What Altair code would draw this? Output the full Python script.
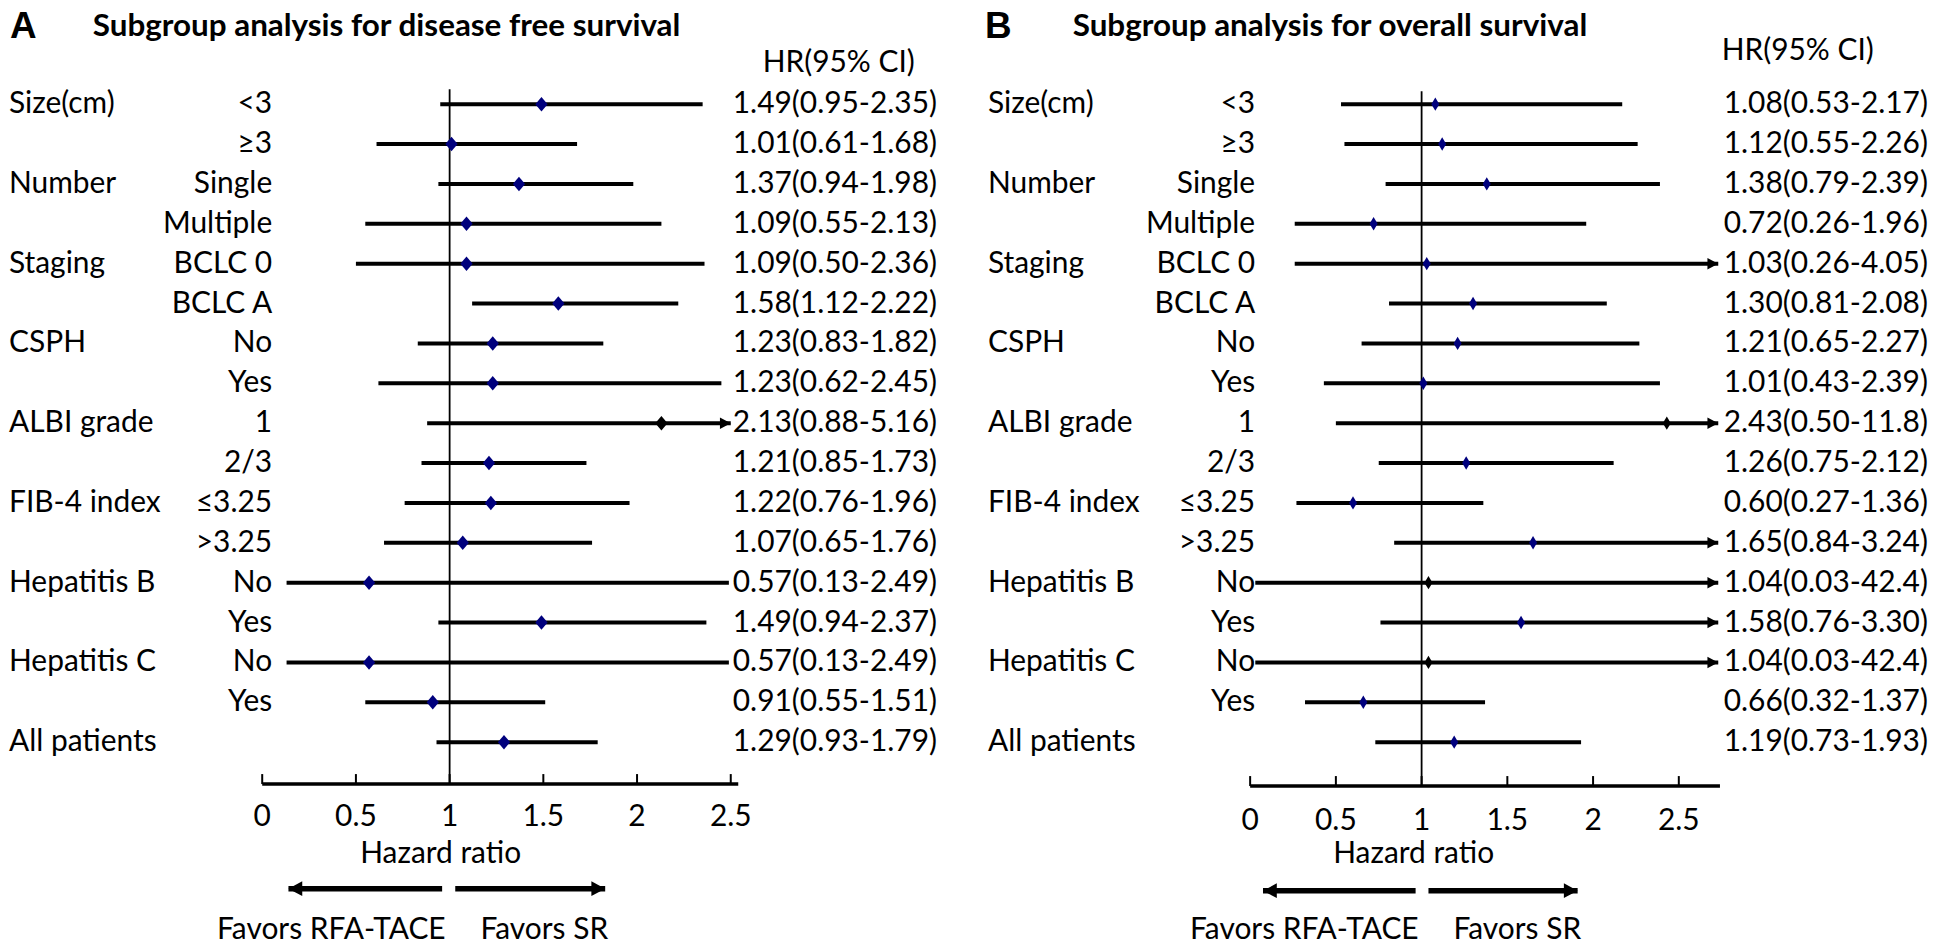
import altair as alt
import pandas as pd

# ---------------- data ----------------
group_labels = ["Size(cm)", "", "Number", "", "Staging", "", "CSPH", "", "ALBI grade", "",
                "FIB-4 index", "", "Hepatitis B", "", "Hepatitis C", "", "All patients"]
subgroups = ["<3", "≥3", "Single", "Multiple", "BCLC 0", "BCLC A", "No", "Yes", "1", "2/3",
             "≤3.25", ">3.25", "No", "Yes", "No", "Yes", ""]

dfs_hr = [1.49, 1.01, 1.37, 1.09, 1.09, 1.58, 1.23, 1.23, 2.13, 1.21, 1.22, 1.07, 0.57, 1.49, 0.57, 0.91, 1.29]
dfs_lo = [0.95, 0.61, 0.94, 0.55, 0.50, 1.12, 0.83, 0.62, 0.88, 0.85, 0.76, 0.65, 0.13, 0.94, 0.13, 0.55, 0.93]
dfs_hi = [2.35, 1.68, 1.98, 2.13, 2.36, 2.22, 1.82, 2.45, 5.16, 1.73, 1.96, 1.76, 2.49, 2.37, 2.49, 1.51, 1.79]

os_hr = [1.08, 1.12, 1.38, 0.72, 1.03, 1.30, 1.21, 1.01, 2.43, 1.26, 0.60, 1.65, 1.04, 1.58, 1.04, 0.66, 1.19]
os_lo = [0.53, 0.55, 0.79, 0.26, 0.26, 0.81, 0.65, 0.43, 0.50, 0.75, 0.27, 0.84, 0.03, 0.76, 0.03, 0.32, 0.73]
os_hi = [2.17, 2.26, 2.39, 1.96, 4.05, 2.08, 2.27, 2.39, 11.8, 2.12, 1.36, 3.24, 42.4, 3.30, 42.4, 1.37, 1.93]

dfs_black_rows = [8]
os_black_rows = [8, 12, 14]

tick_values = [0, 0.5, 1, 1.5, 2, 2.5]
tick_labels = ["0", "0.5", "1", "1.5", "2", "2.5"]

# ---------------- layout / style ----------------
W, H = 1936, 939
ROW0, ROWSTEP = 95, 40
FONT = "Lato"
FS = 30
NAVY = "#00007d"
DIAMOND_A = "M0,-1L0.85,0L0,1L-0.85,0Z"
DIAMOND_B = "M0,-1L0.6,0L0,1L-0.6,0Z"
HEAD_R = "M0,0L-1.5,-0.8L-1.5,0.8Z"
HEAD_L = "M0,0L1.5,-0.8L1.5,0.8Z"

ys = alt.Scale(domain=[-ROW0 / ROWSTEP, (H - ROW0) / ROWSTEP], reverse=True, nice=False, zero=False)


def fmt(v):
    return f"{v:.2f}" if v < 10 else f"{v:.1f}"


def panel(hr, lo, hi, black_rows, letter, title, L):
    n = len(hr)
    df = pd.DataFrame({"row": list(range(n)), "group": group_labels, "sub": subgroups,
                       "hr": hr, "lo": lo, "hi": hi})
    df["hi_draw"] = df["hi"].clip(upper=L["clip"])
    df["arrow"] = df["hi"] > L["clip"]
    df["label"] = [f"{fmt(a)}({fmt(b)}-{fmt(c)})" for a, b, c in zip(hr, lo, hi)]
    df["mc"] = ["black" if i in black_rows else NAVY for i in range(n)]

    o, u = L["origin"], L["unit"]
    xs = alt.Scale(domain=[-o / u, (W - o) / u], nice=False, zero=False)

    def X(f):
        return alt.X(f, type="quantitative", scale=xs, axis=None)

    Y = alt.Y("row:Q", scale=ys, axis=None)
    base = alt.Chart(df)

    ci = base.mark_rule(strokeWidth=4, color="black", strokeCap="butt").encode(
        x=X("lo"), x2="hi_draw", y=Y)
    heads = base.transform_filter("datum.arrow").mark_point(
        shape=HEAD_R, size=L["head"], filled=True, opacity=1, color="black", strokeWidth=0
    ).encode(x=X("hi_draw"), y=Y)
    dia = base.mark_point(shape=L["diamond"], size=L["dsize"], filled=True, opacity=1, strokeWidth=0).encode(
        x=X("hr"), y=Y, color=alt.Color("mc:N", scale=None))

    txt = dict(font=FONT, fontSize=FS, color="black", baseline="middle")
    groups = base.transform_filter("datum.group != ''").mark_text(align="left", **txt).encode(
        x=alt.value(L["gx"]), y=Y, text="group:N")
    subs = base.transform_filter("datum.sub != ''").mark_text(align="right", **txt).encode(
        x=alt.value(L["sx"]), y=Y, text="sub:N")
    vals = base.mark_text(align="left", **txt).encode(x=alt.value(L["vx"]), y=Y, text="label:N")

    ref = alt.Chart(pd.DataFrame({"x": [1]})).mark_rule(color="black", strokeWidth=1.8).encode(
        x=X("x"), y=alt.value(L["vtop"]), y2=alt.value(L["axy"]))
    axis_line = alt.Chart(pd.DataFrame({"a": [0], "b": [L["axend"]]})).mark_rule(
        color="black", strokeWidth=3.5).encode(x=X("a"), x2="b", y=alt.value(L["axy"]))
    tdf = pd.DataFrame({"t": tick_values, "lab": tick_labels})
    ticks = alt.Chart(tdf).mark_rule(color="black", strokeWidth=2).encode(
        x=X("t"), y=alt.value(L["axy"] - 10), y2=alt.value(L["axy"]))
    tlabs = alt.Chart(tdf).mark_text(align="center", **txt).encode(
        x=X("t"), y=alt.value(L["tly"]), text="lab:N")

    hz = alt.Chart(pd.DataFrame({"t": ["Hazard ratio"]})).mark_text(align="center", **txt).encode(
        x=alt.value(L["hzx"]), y=alt.value(L["hzy"]), text="t:N")

    adf = pd.DataFrame({"from": L["arrow_from"], "to": L["arrow_to"], "dir": ["L", "R"]})
    arr = alt.Chart(adf).mark_rule(color="black", strokeWidth=5.5).encode(
        x=X("from"), x2="to", y=alt.value(L["ary"]))
    arrh_l = alt.Chart(adf).transform_filter("datum.dir == 'L'").mark_point(
        shape=HEAD_L, size=340, filled=True, opacity=1, color="black", strokeWidth=0).encode(
        x=X("to"), y=alt.value(L["ary"]))
    arrh_r = alt.Chart(adf).transform_filter("datum.dir == 'R'").mark_point(
        shape=HEAD_R, size=340, filled=True, opacity=1, color="black", strokeWidth=0).encode(
        x=X("to"), y=alt.value(L["ary"]))

    fav = alt.Chart(pd.DataFrame({"t": ["Favors RFA-TACE"]})).mark_text(align="right", **txt).encode(
        x=alt.value(L["fav1x"]), y=alt.value(L["favy"]), text="t:N")
    fav2 = alt.Chart(pd.DataFrame({"t": ["Favors SR"]})).mark_text(align="left", **txt).encode(
        x=alt.value(L["fav2x"]), y=alt.value(L["favy"]), text="t:N")

    hdr = alt.Chart(pd.DataFrame({"t": ["HR(95% CI)"]})).mark_text(align="left", **txt).encode(
        x=alt.value(L["hdrx"]), y=alt.value(L["hdry"]), text="t:N")
    let = alt.Chart(pd.DataFrame({"t": [letter]})).mark_text(
        align="left", baseline="alphabetic", font="Liberation Sans", fontWeight="bold", fontSize=37,
        color="black").encode(x=alt.value(L["letx"]), y=alt.value(29), text="t:N")
    ttl = alt.Chart(pd.DataFrame({"t": [title]})).mark_text(
        align="left", baseline="alphabetic", font=FONT, fontWeight="bold", fontSize=31.5,
        color="black").encode(x=alt.value(L["ttlx"]), y=alt.value(27), text="t:N")

    return alt.layer(ref, axis_line, ticks, tlabs, ci, heads, dia, groups, subs, vals, hz,
                     arr, arrh_l, arrh_r, fav, fav2, hdr, let, ttl)


LA = dict(origin=255, unit=188, clip=2.5, axend=2.54, head=210, diamond=DIAMOND_A, dsize=210,
          gx=1, sx=265, vx=727, vtop=80, axy=777, tly=810, hzx=434, hzy=847, ary=882,
          arrow_from=[0.96, 1.03], arrow_to=[0.14, 1.83], fav1x=439, fav2x=474, favy=923,
          hdrx=757, hdry=54, letx=2, ttlx=85)
LB = dict(origin=1246, unit=172, clip=2.73, axend=2.74, head=210, diamond=DIAMOND_B, dsize=180,
          gx=983, sx=1251, vx=1721, vtop=82, axy=779, tly=814, hzx=1410, hzy=847, ary=884,
          arrow_from=[0.965, 1.04], arrow_to=[0.075, 1.91], fav1x=1415, fav2x=1450, favy=923,
          hdrx=1719, hdry=42, letx=980, ttlx=1068)

pa = panel(dfs_hr, dfs_lo, dfs_hi, dfs_black_rows, "A", "Subgroup analysis for disease free survival", LA)
pb = panel(os_hr, os_lo, os_hi, os_black_rows, "B", "Subgroup analysis for overall survival", LB)

chart = alt.layer(pa, pb).resolve_scale(x="independent").properties(
    width=W, height=H, padding=0, autosize=alt.AutoSizeParams(type="none"),
    background="white"
).configure_view(stroke=None)

chart.save("out.html", embed_options={"renderer": "svg", "actions": False})
